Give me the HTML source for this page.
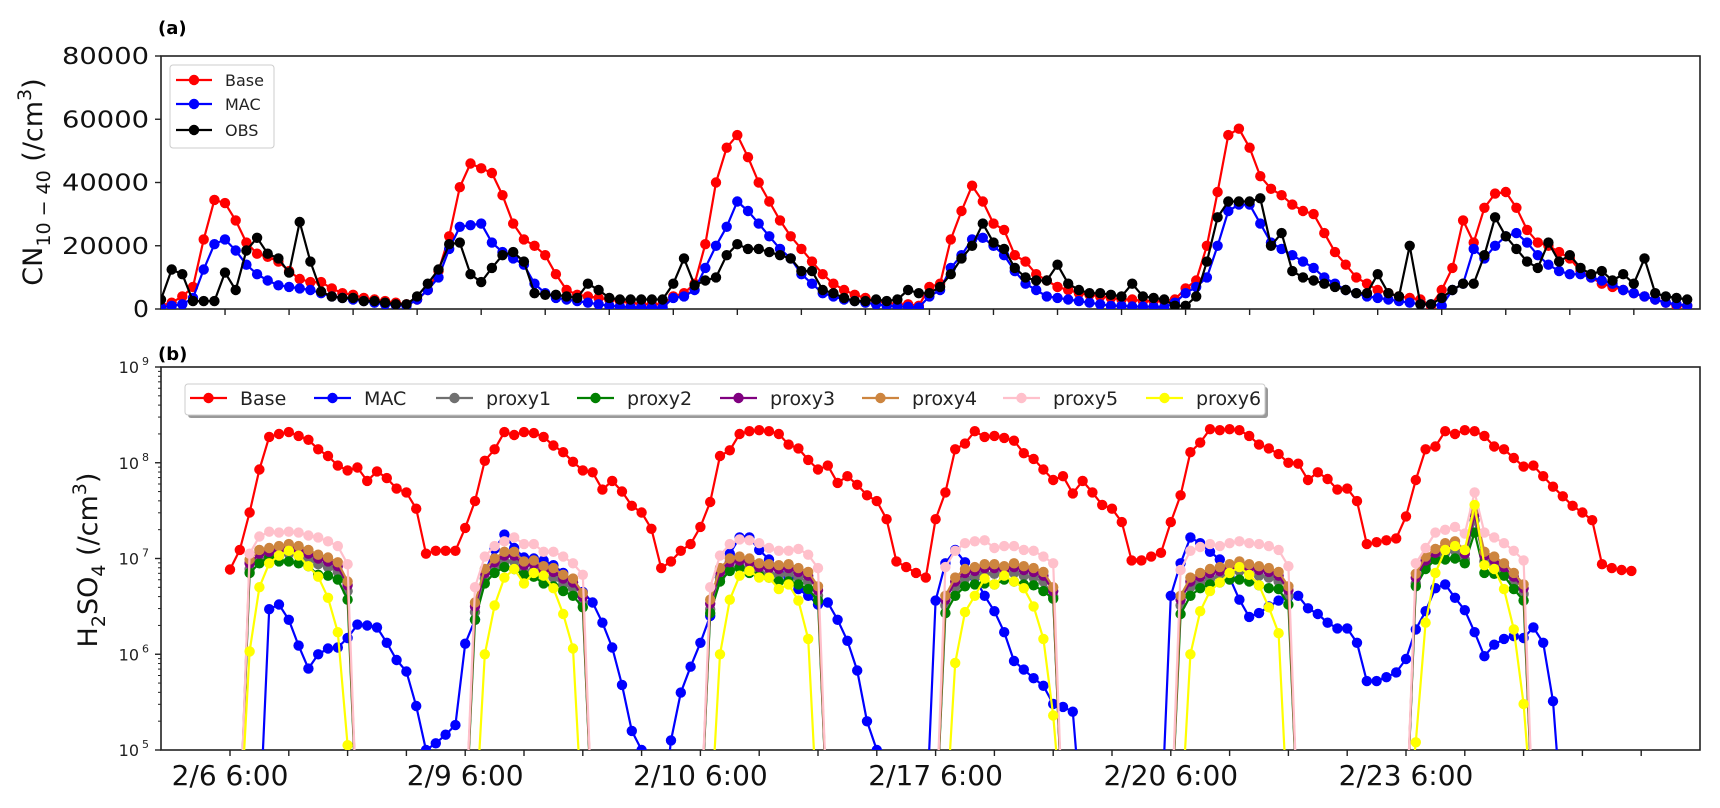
<!DOCTYPE html>
<html><head><meta charset="utf-8"><style>
html,body{margin:0;padding:0;background:#fff;}
svg{display:block;font-family:"DejaVu Sans","Liberation Sans",sans-serif;}
</style></head><body>
<svg id="chart" width="1720" height="808" viewBox="0 0 1720 808" xmlns="http://www.w3.org/2000/svg">
<defs>
<clipPath id="clipA"><rect x="161" y="56" width="1539" height="253"/></clipPath>
<clipPath id="clipB"><rect x="161" y="367" width="1539" height="383"/></clipPath>
</defs>
<g id="panelA"></g>
<g id="panelB"></g>
</svg>
<script>
// ---------- Panel (a) data: CN10-40 (/cm3), hourly ----------
const baseCN = [1000,2000,4000,7000,22000,34500,33500,28000,21000,17500,16500,15000,12000,9500,8500,8500,6500,5000,4500,3500,3000,2500,2000,1500,
3000,6000,12000,23000,38500,46000,44500,43000,36000,27000,22000,20000,17000,11000,6000,4500,4000,3500,3000,2500,2000,1500,1500,1500,
4000,5000,8000,20500,40000,51000,55000,48000,40000,34000,28000,23000,19000,15000,11000,8000,6000,4500,3500,2500,2000,1500,1500,
1000,7000,8000,22000,31000,39000,34000,27000,25000,17000,15000,11000,9000,7000,6000,5000,4500,4000,3500,3000,3000,2500,2500,2500,
3000,6500,9000,20000,37000,55000,57000,51000,42000,38000,36000,33000,31000,30000,24000,18000,14000,10000,8000,6000,5000,4000,3500,3000,
1000,6000,13000,28000,21000,32000,36500,37000,32000,25000,21000,20000,18000,16000,12000,10000,8000,7000,6000,5000,4000,3000,2000,1000,1000];
const macCN = [500,1000,1500,3500,12500,20500,22000,18500,14000,11000,9000,7500,7000,6500,6000,5000,4000,3500,3000,2500,2000,1500,1200,1000,
3000,6000,10000,19000,26000,26500,27000,21000,18000,16000,14000,8000,5000,3500,3000,2500,2000,1500,1000,800,600,500,500,500,
3500,4000,6000,13000,20000,26000,34000,31000,27000,23000,19000,16000,11000,8000,5000,4000,3000,2500,2000,1500,1000,800,700,
500,4000,6000,13000,17000,22000,22500,20000,17000,12000,8000,6000,4000,3500,3000,2500,2000,1500,1000,1000,800,800,700,600,
2000,5000,7000,10000,20000,31000,33000,33000,27000,21000,19000,17000,15000,13000,10000,8000,6000,5000,4000,3500,3000,2500,2000,1500,
1500,1000,6000,8000,19000,16000,20000,23000,24000,21000,17000,14000,12000,11000,11000,10000,9000,8000,6000,5000,4000,3000,2000,1500,1000];
const obsCN = [3000,12500,11000,2500,2500,2500,11500,6000,18500,22500,17500,16000,11500,27500,15000,5500,4000,3500,3500,2500,2500,2000,1500,1500,
4000,8000,12500,20500,21000,11000,8500,13000,17000,18000,15000,5000,4500,4500,4000,3500,8000,6000,3500,3000,3000,3000,3000,3000,
8000,16000,7500,9000,10000,17000,20500,19000,19000,18000,17000,16000,12000,12000,6000,5000,3500,2500,2500,3000,2500,3000,6000,
5000,5000,7000,11000,16000,20000,27000,21000,19000,13000,10000,9000,9000,14000,8000,6000,5000,5000,4500,4000,8000,4000,3500,3000,
1000,1000,4000,15000,29000,34000,34000,34000,35000,20000,24000,12000,10000,9000,8000,7000,6000,5000,5000,11000,5000,4000,20000,1500,
1500,3500,6000,8000,8000,17000,29000,23000,19000,15000,13000,21000,15000,17000,13000,11000,12000,9000,11000,8000,16000,5000,4000,3500,3000];
const cnTicks = [0,20000,40000,60000,80000];
const cnTickLabels = ["0","20000","40000","60000","80000"];

// ---------- Panel (b) data: log10 of H2SO4 (/cm3); 0 = below axis ----------
const h2so4BaseLog = [6.885,7.09,7.48,7.93,8.27,8.30,8.32,8.28,8.24,8.14,8.07,7.97,7.92,7.95,7.81,7.91,7.84,7.73,7.69,7.52,7.05,7.08,7.08,7.08,
7.32,7.60,8.02,8.14,8.32,8.29,8.32,8.31,8.27,8.18,8.11,8.01,7.92,7.90,7.72,7.81,7.70,7.55,7.48,7.31,6.90,6.97,7.08,7.15,
7.33,7.59,8.07,8.13,8.30,8.33,8.34,8.33,8.30,8.19,8.15,8.03,7.93,7.97,7.79,7.86,7.77,7.66,7.60,7.41,6.97,6.91,6.85,6.80,
7.41,7.69,8.14,8.20,8.33,8.27,8.28,8.26,8.23,8.10,8.04,7.93,7.82,7.86,7.68,7.81,7.69,7.56,7.52,7.38,6.98,6.98,7.02,7.06,
7.38,7.66,8.11,8.21,8.35,8.34,8.35,8.34,8.28,8.19,8.15,8.09,8.00,7.99,7.82,7.90,7.83,7.72,7.73,7.60,7.15,7.17,7.19,7.21,
7.44,7.82,8.14,8.17,8.33,8.30,8.34,8.33,8.28,8.17,8.14,8.05,7.96,7.97,7.86,7.75,7.65,7.55,7.48,7.40,6.94,6.90,6.88,6.87];
const h2so4MacLog = [0,0,0,0,6.47,6.52,6.36,6.09,5.85,6.00,6.06,6.07,6.17,6.31,6.30,6.28,6.12,5.94,5.82,5.46,5.00,5.07,5.16,5.26,
6.11,6.36,6.85,7.10,7.25,7.11,7.01,7.00,6.98,6.93,6.85,6.75,6.65,6.54,6.33,6.07,5.68,5.20,5.00,0,0,5.10,5.60,5.87,
6.12,6.40,6.80,7.05,7.22,7.22,7.09,6.99,6.90,6.80,6.68,6.61,6.52,6.54,6.36,6.14,5.83,5.30,5.00,0,0,0,0,0,
6.56,6.95,7.09,6.96,6.80,6.61,6.45,6.23,5.93,5.84,5.75,5.67,5.48,5.45,5.40,0,0,0,0,0,0,0,0,0,
6.61,6.95,7.22,7.16,7.07,6.99,6.80,6.57,6.39,6.43,6.50,6.56,6.60,6.61,6.48,6.42,6.33,6.27,6.27,6.12,5.72,5.72,5.76,5.81,
5.95,6.26,6.45,6.69,6.73,6.59,6.46,6.23,5.98,6.10,6.16,6.19,6.17,6.28,6.12,5.51,0,0,0,0,0,0,0,0];
const proxy1Log = [0,0,6.89,6.99,7.01,7.03,7.05,7.03,6.99,6.94,6.91,6.86,6.66,0,0,0,0,0,0,0,0,0,0,0,
0,6.44,6.79,6.90,6.97,6.97,6.87,6.88,6.82,6.80,6.73,6.69,6.54,0,0,0,0,0,0,0,0,0,0,0,
0,6.47,6.80,6.90,6.92,6.90,6.85,6.84,6.83,6.84,6.80,6.76,6.61,0,0,0,0,0,0,0,0,0,0,0,
0,6.51,6.70,6.79,6.81,6.84,6.84,6.82,6.85,6.82,6.80,6.76,6.60,0,0,0,0,0,0,0,0,0,0,0,
0,6.51,6.70,6.75,6.79,6.81,6.84,6.87,6.84,6.82,6.80,6.76,6.61,0,0,0,0,0,0,0,0,0,0,0,
0,6.74,6.92,7.00,7.06,7.08,6.99,7.40,6.97,6.92,6.85,6.75,6.63,0,0,0,0,0,0,0,0,0,0,0];
const proxy2Log = [0,0,6.85,6.95,7.02,6.97,6.97,6.95,6.92,6.83,6.82,6.78,6.57,0,0,0,0,0,0,0,0,0,0,0,
0,6.36,6.74,6.85,6.91,6.89,6.83,6.81,6.74,6.71,6.66,6.61,6.49,0,0,0,0,0,0,0,0,0,0,0,
0,6.43,6.76,6.87,6.90,6.85,6.82,6.80,6.76,6.76,6.73,6.68,6.56,0,0,0,0,0,0,0,0,0,0,0,
0,6.43,6.61,6.71,6.73,6.74,6.73,6.78,6.76,6.73,6.72,6.66,6.58,0,0,0,0,0,0,0,0,0,0,0,
0,6.42,6.61,6.69,6.73,6.75,6.78,6.78,6.76,6.72,6.69,6.68,6.52,0,0,0,0,0,0,0,0,0,0,0,
0,6.71,6.89,6.99,6.99,7.00,6.95,7.27,6.85,6.84,6.82,6.68,6.56,0,0,0,0,0,0,0,0,0,0,0];
const proxy3Log = [0,0,6.95,7.05,7.07,7.09,7.11,7.09,7.05,7.00,6.97,6.92,6.72,0,0,0,0,0,0,0,0,0,0,0,
0,6.50,6.85,6.96,7.03,7.03,6.93,6.94,6.88,6.86,6.79,6.75,6.60,0,0,0,0,0,0,0,0,0,0,0,
0,6.53,6.86,6.96,6.98,6.96,6.91,6.90,6.89,6.90,6.86,6.82,6.67,0,0,0,0,0,0,0,0,0,0,0,
0,6.57,6.76,6.85,6.87,6.90,6.90,6.88,6.91,6.88,6.86,6.82,6.66,0,0,0,0,0,0,0,0,0,0,0,
0,6.57,6.76,6.81,6.85,6.87,6.90,6.93,6.90,6.88,6.86,6.82,6.67,0,0,0,0,0,0,0,0,0,0,0,
0,6.80,6.98,7.06,7.12,7.14,7.05,7.46,7.03,6.98,6.91,6.81,6.69,0,0,0,0,0,0,0,0,0,0,0];
const proxy4Log = [0,0,6.99,7.09,7.11,7.13,7.15,7.13,7.09,7.04,7.01,6.96,6.76,0,0,0,0,0,0,0,0,0,0,0,
0,6.54,6.89,7.00,7.07,7.07,6.97,6.98,6.92,6.90,6.83,6.79,6.64,0,0,0,0,0,0,0,0,0,0,0,
0,6.57,6.90,7.00,7.02,7.00,6.95,6.94,6.93,6.94,6.90,6.86,6.71,0,0,0,0,0,0,0,0,0,0,0,
0,6.61,6.80,6.89,6.91,6.94,6.94,6.92,6.95,6.92,6.90,6.86,6.70,0,0,0,0,0,0,0,0,0,0,0,
0,6.61,6.80,6.85,6.89,6.91,6.94,6.97,6.94,6.92,6.90,6.86,6.71,0,0,0,0,0,0,0,0,0,0,0,
0,6.84,7.02,7.10,7.16,7.18,7.09,7.51,7.07,7.02,6.95,6.85,6.73,0,0,0,0,0,0,0,0,0,0,0];
const proxy5Log = [0,0,7.05,7.23,7.28,7.27,7.28,7.27,7.24,7.22,7.18,7.13,6.94,0,0,0,0,0,0,0,0,0,0,0,
0,6.70,7.02,7.13,7.18,7.22,7.15,7.15,7.07,7.07,7.02,6.95,6.83,0,0,0,0,0,0,0,0,0,0,0,
0,6.70,7.03,7.15,7.20,7.19,7.16,7.11,7.08,7.08,7.10,7.04,6.90,0,0,0,0,0,0,0,0,0,0,0,
0,6.91,7.08,7.16,7.18,7.19,7.11,7.13,7.13,7.09,7.08,7.02,6.95,0,0,0,0,0,0,0,0,0,0,0,
0,6.88,7.08,7.12,7.15,7.13,7.16,7.18,7.16,7.15,7.13,7.09,6.92,0,0,0,0,0,0,0,0,0,0,0,
0,6.95,7.11,7.27,7.30,7.33,7.26,7.69,7.27,7.22,7.16,7.08,6.98,0,0,0,0,0,0,0,0,0,0,0];
const proxy6Log = [0,0,6.03,6.70,6.95,7.03,7.08,7.03,6.92,6.81,6.59,6.23,5.05,0,0,0,0,0,0,0,0,0,0,0,
0,0,6.00,6.51,6.80,6.89,6.74,6.85,6.82,6.69,6.42,6.06,0,0,0,0,0,0,0,0,0,0,0,0,
0,0,6.00,6.57,6.82,6.87,6.80,6.80,6.68,6.73,6.56,6.16,0,0,0,0,0,0,0,0,0,0,0,0,
0,0,5.91,6.44,6.61,6.79,6.73,6.82,6.76,6.69,6.50,6.16,5.36,0,0,0,0,0,0,0,0,0,0,0,
0,0,6.00,6.45,6.66,6.75,6.85,6.91,6.83,6.72,6.49,6.22,0,0,0,0,0,0,0,0,0,0,0,0,
0,5.08,6.33,6.85,7.09,7.13,7.09,7.56,6.93,6.89,6.68,6.26,5.48,0,0,0,0,0,0,0,0,0,0,0];
const logTicks = [5,6,7,8,9];
const xTickLabels = ["2/6 6:00","2/9 6:00","2/10 6:00","2/17 6:00","2/20 6:00","2/23 6:00"];

const NS = "http://www.w3.org/2000/svg";
function mk(tag, attrs, parent){const e=document.createElementNS(NS,tag);for(const k in attrs)e.setAttribute(k,attrs[k]);if(parent)parent.appendChild(e);return e;}

const A = {l:161,r:1700,t:56,b:309};
const B = {l:161,r:1700,t:367,b:750};
function xa(i){return A.l + i*(A.r-A.l)/144.2;}
function ya(v){return A.b - v*(A.b-A.t)/80000;}
function xb(j){return 230 + j*9.8;}
function yb(lv){ if(!lv) return B.b+80; return B.b - (lv-5)*(B.b-B.t)/4;}

const pa = document.getElementById('panelA');
const pb = document.getElementById('panelB');

function drawSeries(parent, vals, xf, yf, color, name, r, clip){
  const g = mk('g',{'clip-path':'url(#'+clip+')'},parent);
  
  
  let d='';
  vals.forEach((v,i)=>{d+=(i?'L':'M')+xf(i).toFixed(1)+','+yf(v).toFixed(1);});
  const p = mk('path',{d:d,fill:'none',stroke:color,'stroke-width':2.2,'stroke-linejoin':'round'},g);
  
  
  vals.forEach((v,i)=>{
    const y=yf(v); if(y>parent.__bottom+10) return;
    const c = mk('circle',{cx:xf(i).toFixed(1),cy:y.toFixed(1),r:r,fill:color},g);
    
    
  });
}

pa.__bottom = A.b;
const fa = mk('rect',{x:A.l,y:A.t,width:A.r-A.l,height:A.b-A.t,fill:'none',stroke:'#222','stroke-width':1.6},pa);


cnTicks.forEach((v,k)=>{
  mk('line',{x1:A.l-6,x2:A.l,y1:ya(v),y2:ya(v),stroke:'#222','stroke-width':1.4},pa);
  const t = mk('text',{x:A.l-12,y:ya(v)+8,'text-anchor':'end','font-size':23,fill:'#111',textLength:cnTickLabels[k].length>1?87:16,lengthAdjust:'spacingAndGlyphs'},pa);
  t.textContent = cnTickLabels[k];
  
  
});
for(let k=1;k<=23;k++){ mk('line',{x1:xa(6*k),x2:xa(6*k),y1:A.b,y2:A.b+6,stroke:'#222','stroke-width':1.4},pa); }
drawSeries(pa, baseCN, xa, ya, '#ff0000', 'series-a-base', 5.2, 'clipA');
drawSeries(pa, macCN, xa, ya, '#0000ff', 'series-a-mac', 5.2, 'clipA');
drawSeries(pa, obsCN, xa, ya, '#000000', 'series-a-obs', 5.2, 'clipA');

pb.__bottom = B.b;
const fb = mk('rect',{x:B.l,y:B.t,width:B.r-B.l,height:B.b-B.t,fill:'none',stroke:'#222','stroke-width':1.6},pb);


logTicks.forEach(e=>{
  const y=yb(e);
  mk('line',{x1:B.l-6,x2:B.l,y1:y,y2:y,stroke:'#222','stroke-width':1.4},pb);
  const t = mk('text',{x:B.l-22,y:y+6,'text-anchor':'end','font-size':16,fill:'#222'},pb);
  t.textContent='10';
  
  
  const s = mk('text',{x:B.l-12,y:y-2,'text-anchor':'end','font-size':11,fill:'#222'},pb);
  s.textContent=String(e);
  if(e<9){ for(let m=2;m<=9;m++){ const ym=yb(e+Math.log10(m)); mk('line',{x1:B.l-3,x2:B.l,y1:ym,y2:ym,stroke:'#222','stroke-width':1},pb);} }
});
for(let k=0;k<=24;k++){ const x=xb(6*k); if(x>B.r) break; mk('line',{x1:x,x2:x,y1:B.b,y2:B.b+6,stroke:'#222','stroke-width':1.4},pb); }
xTickLabels.forEach((lab,k)=>{
  const t=mk('text',{x:xb(24*k),y:785,'text-anchor':'middle','font-size':28,fill:'#111'},pb);
  t.textContent=lab;
  
  
});
const seriesB = [
 [h2so4BaseLog,'#ff0000','series-b-base'],
 [h2so4MacLog,'#0000ff','series-b-mac'],
 [proxy1Log,'#707070','series-b-proxy1'],
 [proxy2Log,'#008000','series-b-proxy2'],
 [proxy3Log,'#800080','series-b-proxy3'],
 [proxy4Log,'#cd853f','series-b-proxy4'],
 [proxy5Log,'#ffc0cb','series-b-proxy5'],
 [proxy6Log,'#ffff00','series-b-proxy6']];
seriesB.forEach(s=>drawSeries(pb, s[0], xb, yb, s[1], s[2], 5.2, 'clipB'));

const la = mk('g',{},pa);


mk('rect',{x:170,y:65,width:104,height:83,rx:3,fill:'#fff',stroke:'#ccc','stroke-width':1},la);
[['Base','#ff0000',80],['MAC','#0000ff',104],['OBS','#000000',130]].forEach(e=>{
  const g=mk('g',{},la);
  
  
  mk('line',{x1:176,x2:212,y1:e[2],y2:e[2],stroke:e[1],'stroke-width':2.2},g);
  mk('circle',{cx:194,cy:e[2],r:5.2,fill:e[1]},g);
  const t=mk('text',{x:225,y:e[2]+6,'font-size':16,fill:'#222'},g); t.textContent=e[0];
});
const lb = mk('g',{},pb);


mk('rect',{x:188,y:387,width:1080,height:31,rx:3,fill:'#999'},lb);
mk('rect',{x:185,y:384,width:1080,height:31,rx:3,fill:'#fff',stroke:'#ccc','stroke-width':1},lb);
const legB=[['Base','#ff0000',190],['MAC','#0000ff',314],['proxy1','#707070',436],['proxy2','#008000',577],['proxy3','#800080',720],['proxy4','#cd853f',862],['proxy5','#ffc0cb',1003],['proxy6','#ffff00',1146]];
legB.forEach(e=>{
  const g=mk('g',{},lb);
  
  
  mk('line',{x1:e[2],x2:e[2]+37,y1:398,y2:398,stroke:e[1],'stroke-width':2.2},g);
  mk('circle',{cx:e[2]+18.5,cy:398,r:5.2,fill:e[1]},g);
  const t=mk('text',{x:e[2]+50,y:405,'font-size':19,fill:'#222'},g); t.textContent=e[0];
});

const pla=mk('text',{x:158,y:34,'font-size':18,'font-weight':'bold',fill:'#000'},pa); pla.textContent='(a)';
 
const plb=mk('text',{x:158,y:360,'font-size':18,'font-weight':'bold',fill:'#000'},pb); plb.textContent='(b)';
 
</script>
<script>
(function(){
 const svg=document.getElementById('chart');
 const NS="http://www.w3.org/2000/svg";
 const ta=document.createElementNS(NS,'text');
 ta.setAttribute('transform','translate(42,182) rotate(-90)');
 ta.setAttribute('text-anchor','middle');ta.setAttribute('font-size','27');ta.setAttribute('fill','#111');
 
 
 ta.innerHTML='CN<tspan font-size="19" dy="8">10 − 40</tspan><tspan dy="-8"> (/cm</tspan><tspan font-size="19" dy="-11">3</tspan><tspan dy="11">)</tspan>';
 svg.appendChild(ta);
 const tb=document.createElementNS(NS,'text');
 tb.setAttribute('transform','translate(97,560) rotate(-90)');
 tb.setAttribute('text-anchor','middle');tb.setAttribute('font-size','27');tb.setAttribute('fill','#111');
 
 
 tb.innerHTML='H<tspan font-size="19" dy="8">2</tspan><tspan dy="-8">SO</tspan><tspan font-size="19" dy="8">4</tspan><tspan dy="-8"> (/cm</tspan><tspan font-size="19" dy="-11">3</tspan><tspan dy="11">)</tspan>';
 svg.appendChild(tb);
})();
</script>
</body></html>
